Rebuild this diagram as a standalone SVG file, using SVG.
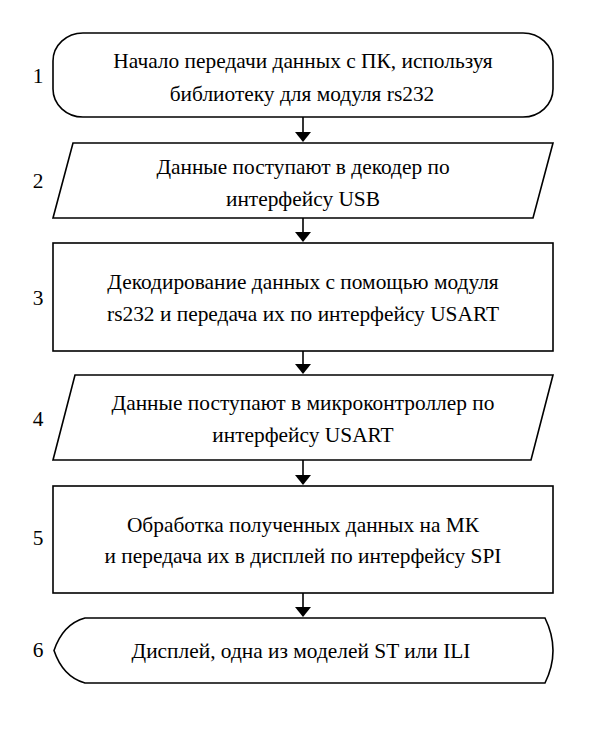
<svg xmlns="http://www.w3.org/2000/svg" width="616" height="737" viewBox="0 0 616 737">
<defs>
<style>
.shape{fill:#fff;stroke:#000;stroke-width:1.6}
.c{stroke:#000;stroke-width:1.6;fill:none}
.ah{fill:#000}
</style>
</defs>
<rect width="616" height="737" fill="#fff"/>
<g id="connectors">
<line class="c" x1="303" y1="117" x2="303" y2="132"/>
<path class="ah" d="M295,132 L311,132 L303,142 Z"/>
<line class="c" x1="303" y1="218" x2="303" y2="232"/>
<path class="ah" d="M295,232 L311,232 L303,242 Z"/>
<line class="c" x1="303" y1="351" x2="303" y2="364"/>
<path class="ah" d="M295,364 L311,364 L303,374 Z"/>
<line class="c" x1="303" y1="460" x2="303" y2="475"/>
<path class="ah" d="M295,475 L311,475 L303,485 Z"/>
<line class="c" x1="303" y1="593" x2="303" y2="607"/>
<path class="ah" d="M295,607 L311,607 L303,617 Z"/>
</g>
<g font-family="'Liberation Serif', 'Times New Roman', 'DejaVu Serif', serif" font-size="21.4" fill="#000" text-anchor="middle">
<g id="node1">
<rect class="shape" x="53" y="33" width="500" height="84" rx="30" ry="28"/>
<text x="303" y="68">Начало передачи данных с ПК, используя</text>
<text x="302" y="101">библиотеку для модуля rs232</text>
<text x="38" y="83">1</text>
</g>
<g id="node2">
<polygon class="shape" points="73,143 553,143 533,218 53,218"/>
<text x="303" y="174">Данные поступают в декодер по</text>
<text x="303" y="206">интерфейсу USB</text>
<text x="38" y="188">2</text>
</g>
<g id="node3">
<rect class="shape" x="53" y="243" width="500" height="108"/>
<text x="303" y="289">Декодирование данных с помощью модуля</text>
<text x="303" y="321">rs232 и передача их по интерфейсу USART</text>
<text x="38" y="305">3</text>
</g>
<g id="node4">
<polygon class="shape" points="75,375 553,375 531,460 53,460"/>
<text x="303" y="410">Данные поступают в микроконтроллер по</text>
<text x="303" y="442">интерфейсу USART</text>
<text x="38" y="426">4</text>
</g>
<g id="node5">
<rect class="shape" x="53" y="486" width="500" height="107"/>
<text x="303" y="532">Обработка полученных данных на МК</text>
<text x="303" y="563">и передача их в дисплей по интерфейсу SPI</text>
<text x="38" y="545">5</text>
</g>
<g id="node6">
<path class="shape" d="M85,618 L545,618 Q561,650.5 545,683 L85,683 Q63,677 54,650.5 Q63,624 85,618 Z"/>
<text x="301" y="658">Дисплей, одна из моделей ST или ILI</text>
<text x="38" y="657">6</text>
</g>
</g>
</svg>
